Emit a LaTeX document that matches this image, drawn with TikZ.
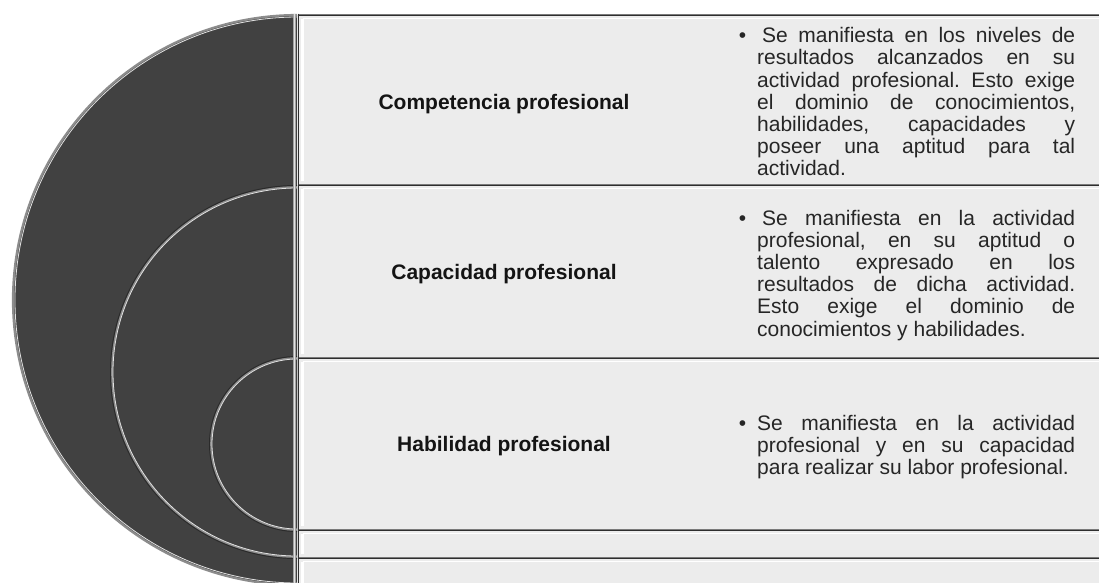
\documentclass[tikz,border=0pt]{standalone}
\usepackage{fontspec}
\setmainfont{Liberation Sans}
\frenchspacing
\definecolor{darkfill}{HTML}{414141}
\definecolor{rowfill}{HTML}{ECECEC}
\definecolor{edgegray}{HTML}{7A7A7A}
\definecolor{edgedark}{HTML}{2E2E2E}
\definecolor{arcgray}{HTML}{8C8C8C}
\definecolor{arclight}{HTML}{E2E2E2}
\definecolor{arcshadow}{HTML}{2A2A2A}
\definecolor{bodyink}{HTML}{262626}
\definecolor{titleink}{HTML}{141414}
\newlength{\bodyw}\setlength{\bodyw}{318pt}
\newcommand{\bodyfont}{\fontsize{21}{22.2}\selectfont}
\newcommand{\jline}[1]{\makebox[\bodyw][s]{#1}}
\newcommand{\jfirst}[1]{\noindent\llap{\textbullet\hspace{11pt}}\hspace{5pt}\makebox[\dimexpr\bodyw-5pt\relax][s]{#1}}
\newcommand{\jfirstb}[1]{\noindent\llap{\textbullet\hspace{11pt}}\makebox[\bodyw][s]{#1}}
\tikzset{
  disc/.style={fill=darkfill},
  rim/.style={draw=arcgray, line width=2.2pt},
  rimlight/.style={draw=arclight, line width=0.8pt},
  rimshadow/.style={draw=arcshadow, line width=1pt},
  rowbox/.style={fill=rowfill},
  rowedge/.style={draw=edgegray, line width=2.6pt},
  rowedgedark/.style={draw=edgedark, line width=0.8pt},
  bevel/.style={draw=white, line width=#1},
  rowtitle/.style={font=\fontsize{21}{24}\selectfont\bfseries, text=titleink, inner sep=0pt, anchor=base},
  rowbody/.style={text=bodyink, inner sep=0pt, anchor=base west},
}
\begin{document}
\begin{tikzpicture}[x=1pt, y=-1pt]
\useasboundingbox (0,0) rectangle (1099,582);
\clip (0,0) rectangle (1099,582);
% ---- nested half discs ----
\begin{scope}
  \clip (-10,-10) rectangle (297,600);
  \fill[disc] (298,300) circle (285pt);
  \draw[rim] (298,300) circle (285pt);
  \draw[rimlight] (298,300) circle (283pt);
  \fill[disc] (297,372) circle (185pt);
  \draw[rimshadow] (297,372) circle (186.5pt);
  \draw[rim, line width=1.6pt] (297,372) circle (185pt);
  \draw[rimlight] (297,372) circle (184pt);
  \fill[disc] (297,444) circle (86pt);
  \draw[rimshadow] (297,444) circle (87.5pt);
  \draw[rim, line width=1.6pt] (297,444) circle (86pt);
  \draw[rimlight] (297,444) circle (85pt);
\end{scope}
\coordinate (bt) at (294.5,14);
\coordinate (bb) at (294.5,590);
\draw[draw=arcgray!80, line width=3pt] (bt) -- (bb);
\draw[draw=arclight, line width=0.7pt] ([xshift=-0.5pt]bt) -- ([xshift=-0.5pt]bb);
% ---- rows ----
\foreach \t/\b/\n in {15/185/r1, 185/358/r2, 358/530/r3, 530/558/r4, 558/640/r5}{
  \path[rowbox] (298,\t) rectangle (1110,\b);
  \draw[bevel=3pt] (302.5,\t+4) -- (302.5,\b-4);
  \draw[bevel=1pt] (303,\t+3) -- (1110,\t+3);
}
\foreach \y in {15,185,358,530,558}{
  \draw[rowedge] (298,\y) -- (1110,\y);
  \draw[rowedgedark] (298,\y+0.6) -- (1110,\y+0.6);
}
\coordinate (vt) at (298.5,13.7);
\coordinate (vb) at (298.5,590);
\draw[draw=edgedark, line width=1.8pt] (vt) -- (vb);
% ---- titles ----
\node[rowtitle] (t1) at (504,109) {Competencia profesional};
\node[rowtitle] (t2) at (504,279.5) {Capacidad profesional};
\node[rowtitle] (t3) at (504,451.5) {Habilidad profesional};
% ---- descriptions ----
\node[rowbody] (d1) at (757,42.7) {\parbox[t]{\bodyw}{\bodyfont
  \jfirst{Se manifiesta en los niveles de}\\
  \jline{resultados alcanzados en su}\\
  \jline{actividad profesional. Esto exige}\\
  \jline{el dominio de conocimientos,}\\
  \jline{habilidades, capacidades y}\\
  \jline{poseer una aptitud para tal}\\
  actividad.}};
\node[rowbody] (d2) at (757,225) {\parbox[t]{\bodyw}{\bodyfont
  \jfirst{Se manifiesta en la actividad}\\
  \jline{profesional, en su aptitud o}\\
  \jline{talento expresado en los}\\
  \jline{resultados de dicha actividad.}\\
  \jline{Esto exige el dominio de}\\
  conocimientos y habilidades.}};
\node[rowbody] (d3) at (757,430) {\parbox[t]{\bodyw}{\bodyfont
  \jfirstb{Se manifiesta en la actividad}\\
  \jline{profesional y en su capacidad}\\
  para realizar su labor profesional.}};
\end{tikzpicture}
\end{document}
